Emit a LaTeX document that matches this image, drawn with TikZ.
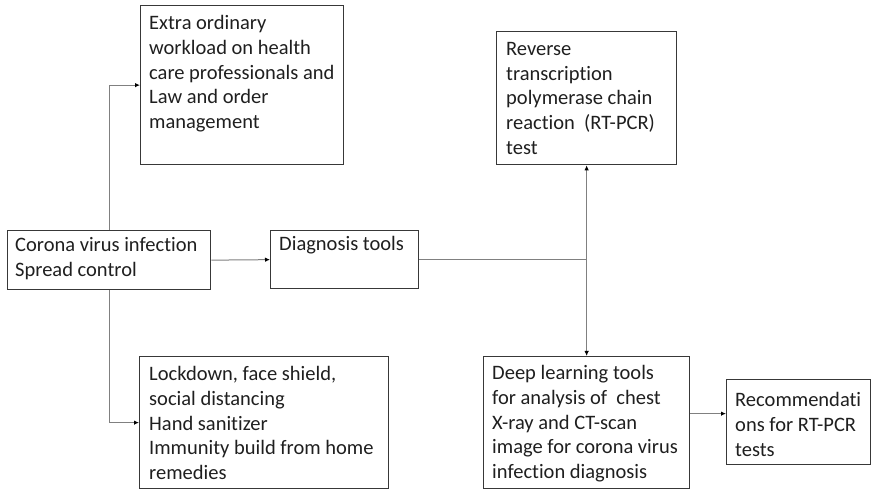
\documentclass[tikz,border=0pt]{standalone}
\usepackage{fontspec}
\setmainfont[Ligatures=NoCommon]{Carlito}
\usetikzlibrary{arrows.meta}
\begin{document}
\begin{tikzpicture}[x=1pt,y=-1pt,
  box/.style={draw=black!78,line width=1.3pt,anchor=north west,inner sep=0pt,rectangle},
  txt/.style={anchor=north west,align=left,inner sep=0pt,text=black!88,font=\fontsize{20.5}{24.8}\selectfont},
  conn/.style={draw=black!50,line width=1pt},
  arr/.style={conn,-{Latex[length=5pt,width=4.5pt,color=black]}}]
\useasboundingbox (0,0) rectangle (871,489);
% boxes
\node[box,minimum width=203pt,minimum height=159pt] (work) at (140,5) {};
\node[box,minimum width=203pt,minimum height=59pt] (cor) at (7,230) {};
\node[box,minimum width=148pt,minimum height=58pt] (diag) at (270,230) {};
\node[box,minimum width=249pt,minimum height=132pt] (lock) at (139,356) {};
\node[box,minimum width=180pt,minimum height=133pt] (rt) at (496,31) {};
\node[box,minimum width=206pt,minimum height=132pt] (deep) at (483,356) {};
\node[box,minimum width=144pt,minimum height=85pt] (rec) at (726,379) {};
% texts
\node[txt] (workt) at ([xshift=9pt,yshift=-10pt]work.north west) {Extra ordinary\\workload on health\\care professionals and\\Law and order\\management};
\node[txt] (cort) at ([xshift=8pt,yshift=-7pt]cor.north west) {Corona virus infection\\Spread control};
\node[txt] (diagt) at ([xshift=9pt,yshift=-6pt]diag.north west) {Diagnosis tools};
\node[txt] (lockt) at ([xshift=10pt,yshift=-10pt]lock.north west) {Lockdown, face shield,\\social distancing\\Hand sanitizer\\Immunity build from home\\remedies};
\node[txt] (rtt) at ([xshift=10pt,yshift=-11pt]rt.north west) {Reverse\\transcription\\polymerase chain\\reaction~~(RT-PCR)\\test};
\node[txt] (deept) at ([xshift=9pt,yshift=-9pt]deep.north west) {Deep learning tools\\for analysis of~~chest\\X-ray and CT-scan\\image for corona virus\\infection diagnosis};
\node[txt] (rect) at ([xshift=9pt,yshift=-13pt]rec.north west) {Recommendati\\ons for RT-PCR\\tests};
% connectors
\draw[arr] (cor.north) |- (work.west);
\draw[arr] (cor.south) |- (lock.west);
\draw[arr] (cor.east) -- (diag.west);
\coordinate (j) at (rt.south |- diag.east);
\draw[conn] (diag.east) -- (j);
\draw[arr] (j) -- (rt.south);
\draw[arr] (j) -- (deep.north);
\coordinate (r) at ([yshift=8.5pt]rec.west);
\draw[arr] (deep.east |- r) -- (r);
\end{tikzpicture}
\end{document}
